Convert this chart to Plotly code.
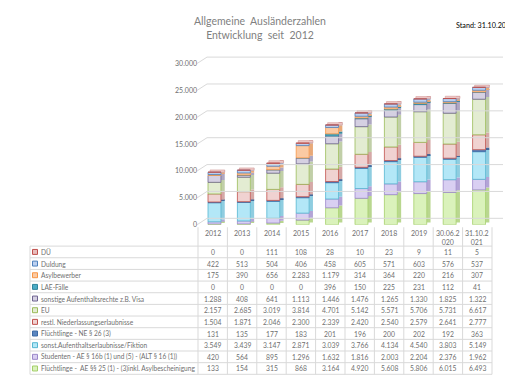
import plotly.graph_objects as go

# ---------------- data ----------------
categories = ["2012", "2013", "2014", "2015", "2016", "2017", "2018", "2019",
              "30.06.2020", "31.10.2021"]
header_labels = ["2012", "2013", "2014", "2015", "2016", "2017", "2018", "2019",
                 "30.06.2<br>020", "31.10.2<br>021"]

# stacking order: bottom -> top
fluecht_ae = [133, 154, 315, 868, 3164, 4920, 5608, 5806, 6015, 6493]
studenten = [420, 564, 895, 1296, 1632, 1816, 2003, 2204, 2376, 1962]
sonst_ae = [3549, 3439, 3147, 2871, 3039, 3766, 4134, 4540, 3803, 5149]
fluecht_ne = [131, 135, 177, 183, 201, 196, 200, 202, 192, 363]
restl_ne = [1504, 1871, 2046, 2300, 2339, 2420, 2540, 2579, 2641, 2777]
eu = [2157, 2685, 3019, 3814, 4701, 5142, 5571, 5706, 5731, 6617]
sonstige = [1288, 408, 641, 1113, 1446, 1476, 1265, 1330, 1825, 1322]
lae = [0, 0, 0, 0, 396, 150, 225, 231, 112, 41]
asyl = [175, 390, 656, 2283, 1179, 314, 364, 220, 216, 307]
duldung = [422, 513, 504, 406, 458, 605, 571, 603, 576, 537]
due = [0, 0, 111, 108, 28, 10, 23, 9, 11, 5]

series_names = [
    "Flüchtlinge -  AE §§ 25 (1) - (3)inkl. Asylbescheinigung",
    "Studenten - AE § 16b (1) und (5) - (ALT § 16 (1))",
    "sonst.Aufenthaltserlaubnisse/Fiktion",
    "Flüchtlinge - NE § 26 (3)",
    "restl. Niederlassungserlaubnisse",
    "EU",
    "sonstige Aufenthaltsrechte z.B. Visa",
    "LAE-Fälle",
    "Asylbewerber",
    "Duldung",
    "DÜ",
]
series_values = [fluecht_ae, studenten, sonst_ae, fluecht_ne, restl_ne, eu,
                 sonstige, lae, asyl, duldung, due]

y_ticks = [0, 5000, 10000, 15000, 20000, 25000, 30000]

# ---------------- styles ----------------
fills = ["#daf2bb", "#d9cff2", "#b3e7f7", "#5b86c0", "#f0d2d1", "#e3ecd2",
         "#d5d0e2", "#4bacc6", "#fbcaa3", "#bcd0f0", "#e8bdbc"]
lines = ["#a4cf6a", "#9c88c9", "#56b6d0", "#3d6aa5", "#c0504d", "#9bbb59",
         "#6f6490", "#31859c", "#f79646", "#4f81bd", "#c0504d"]
sides = ["#b9d78f", "#b3a4d6", "#8fcde0", "#44699c", "#d5a9a7", "#c1cfa8",
         "#aea7c2", "#3a8aa0", "#e8a979", "#97aed3", "#d09594"]

W, H = 513, 378
X0, X1 = 190, 484          # plot / table column area (px)
Y_ZERO, Y_TOP = 218.5, 56  # px position of 0 and 30000
Y_MAX = 31400
px_per_unit = (Y_ZERO - Y_TOP) / 30000
y_top_px = Y_ZERO - Y_MAX * px_per_unit

def px(x):
    return x / W

def py(y):
    return 1 - y / H

FONT = "Lato"
NARROW = "Liberation Sans Narrow, Arial Narrow, Lato"
GREY = "#6f6f6f"

fig = go.Figure()

n = len(categories)
bases = [[0] * n]
for vals in series_values[:-1]:
    bases.append([b + v for b, v in zip(bases[-1], vals)])
totals = [b + v for b, v in zip(bases[-1], series_values[-1])]

DY = 420  # depth shift in data units (3D look)
FRONT_OFF, FRONT_W = -0.16, 0.44
SIDE_W = 0.13

# side faces
for name, vals, base, col in zip(series_names, series_values, bases, sides):
    fig.add_trace(go.Bar(
        x=categories, y=vals, base=[b + DY for b in base],
        offset=FRONT_OFF + FRONT_W, width=SIDE_W,
        marker=dict(color=col, line=dict(width=0)),
        showlegend=False, hoverinfo="skip"))
# top cap
fig.add_trace(go.Bar(
    x=categories, y=[DY] * n, base=totals,
    offset=FRONT_OFF + 0.07, width=FRONT_W + SIDE_W - 0.07,
    marker=dict(color="#eec9c8", line=dict(color="#d49a98", width=0.6)),
    showlegend=False, hoverinfo="skip"))
# front faces
for name, vals, base, col, lc in zip(series_names, series_values, bases, fills, lines):
    fig.add_trace(go.Bar(
        x=categories, y=vals, base=base, name=name,
        offset=FRONT_OFF, width=FRONT_W,
        marker=dict(color=col, line=dict(color=lc, width=0.8)),
        showlegend=False))

shapes = []
# back-wall gridlines with slanted left part
for v in y_ticks:
    yb = Y_ZERO - v * px_per_unit
    yw = yb - 6.5
    shapes.append(dict(type="line", xref="paper", yref="paper",
                       x0=px(189), y0=py(yb), x1=px(199), y1=py(yw),
                       line=dict(color="#d9d9d9", width=1)))
    shapes.append(dict(type="line", xref="paper", yref="paper",
                       x0=px(199), y0=py(yw), x1=px(495), y1=py(yw),
                       line=dict(color="#d9d9d9", width=1)))

# ---------------- data table ----------------
ROW0 = 240.0
ROW_H = 11.75
rows = list(reversed(range(len(series_names))))  # DÜ first
col_w = (X1 - X0) / n
tcol = "#d9d9d9"
for k in range(len(rows) + 1):
    yy = ROW0 + k * ROW_H
    shapes.append(dict(type="line", xref="paper", yref="paper",
                       x0=px(22), y0=py(yy), x1=px(X1), y1=py(yy),
                       line=dict(color=tcol, width=1)))
shapes.append(dict(type="line", xref="paper", yref="paper",
                   x0=px(22), y0=py(ROW0), x1=px(22), y1=py(ROW0 + len(rows) * ROW_H),
                   line=dict(color=tcol, width=1)))
for c in range(n + 1):
    xx = X0 + c * col_w
    shapes.append(dict(type="line", xref="paper", yref="paper",
                       x0=px(xx), y0=py(221), x1=px(xx), y1=py(ROW0 + len(rows) * ROW_H),
                       line=dict(color=tcol, width=1)))

annotations = []
for ci, lab in enumerate(header_labels):
    annotations.append(dict(x=ci, xref="x", y=py(221), yref="paper",
                            text=lab, showarrow=False, xanchor="center", yanchor="top",
                            font=dict(family=FONT, size=7, color=GREY)))

for ri, si in enumerate(rows):
    yc = ROW0 + ROW_H * ri + ROW_H / 2
    shapes.append(dict(type="rect", xref="paper", yref="paper",
                       x0=px(24.5), y0=py(yc - 2.5), x1=px(29.5), y1=py(yc + 2.5),
                       fillcolor=fills[si], line=dict(color=lines[si], width=1)))
    annotations.append(dict(x=px(31), xref="paper", y=py(yc), yref="paper",
                            text=series_names[si], showarrow=False,
                            xanchor="left", yanchor="middle",
                            font=dict(family=NARROW, size=6.6, color=GREY)))
    for ci, v in enumerate(series_values[si]):
        annotations.append(dict(x=ci, xref="x", y=py(yc), yref="paper",
                                text=f"{v:,}".replace(",", "."), showarrow=False,
                                xanchor="center", yanchor="middle",
                                font=dict(family=FONT, size=6.8, color=GREY)))

# title & stand
annotations.append(dict(x=px(252), xref="paper", y=py(5), yref="paper",
                        text="Allgemeine\u00a0\u00a0Ausländerzahlen<br>Entwicklung\u00a0\u00a0seit\u00a0\u00a02012",
                        showarrow=False, xanchor="center", yanchor="top",
                        font=dict(family=FONT, size=10.5, color="#7f7f7f")))
annotations.append(dict(x=px(446), xref="paper", y=py(18), yref="paper",
                        text="Stand: 31.10.2021", showarrow=False,
                        xanchor="left", yanchor="middle",
                        font=dict(family=FONT, size=7.2, color="#000000")))

fig.update_layout(
    width=W, height=H, autosize=False,
    margin=dict(l=0, r=0, t=0, b=0),
    paper_bgcolor="white", plot_bgcolor="rgba(0,0,0,0)",
    barmode="overlay", separators=",.",
    shapes=shapes, annotations=annotations,
    xaxis=dict(type="category", domain=[px(X0), px(X1)], range=[-0.5, n - 0.5],
               showticklabels=False, showgrid=False, zeroline=False,
               showline=False, ticks=""),
    yaxis=dict(domain=[py(Y_ZERO), py(y_top_px)], range=[0, Y_MAX],
               tickvals=y_ticks,
               ticktext=[f"{v:,}".replace(",", ".") for v in y_ticks],
               showgrid=False, zeroline=False, showline=False, ticks="",
               tickfont=dict(family=FONT, size=7, color=GREY)),
    font=dict(family=FONT),
)

fig.write_html("out.html")
